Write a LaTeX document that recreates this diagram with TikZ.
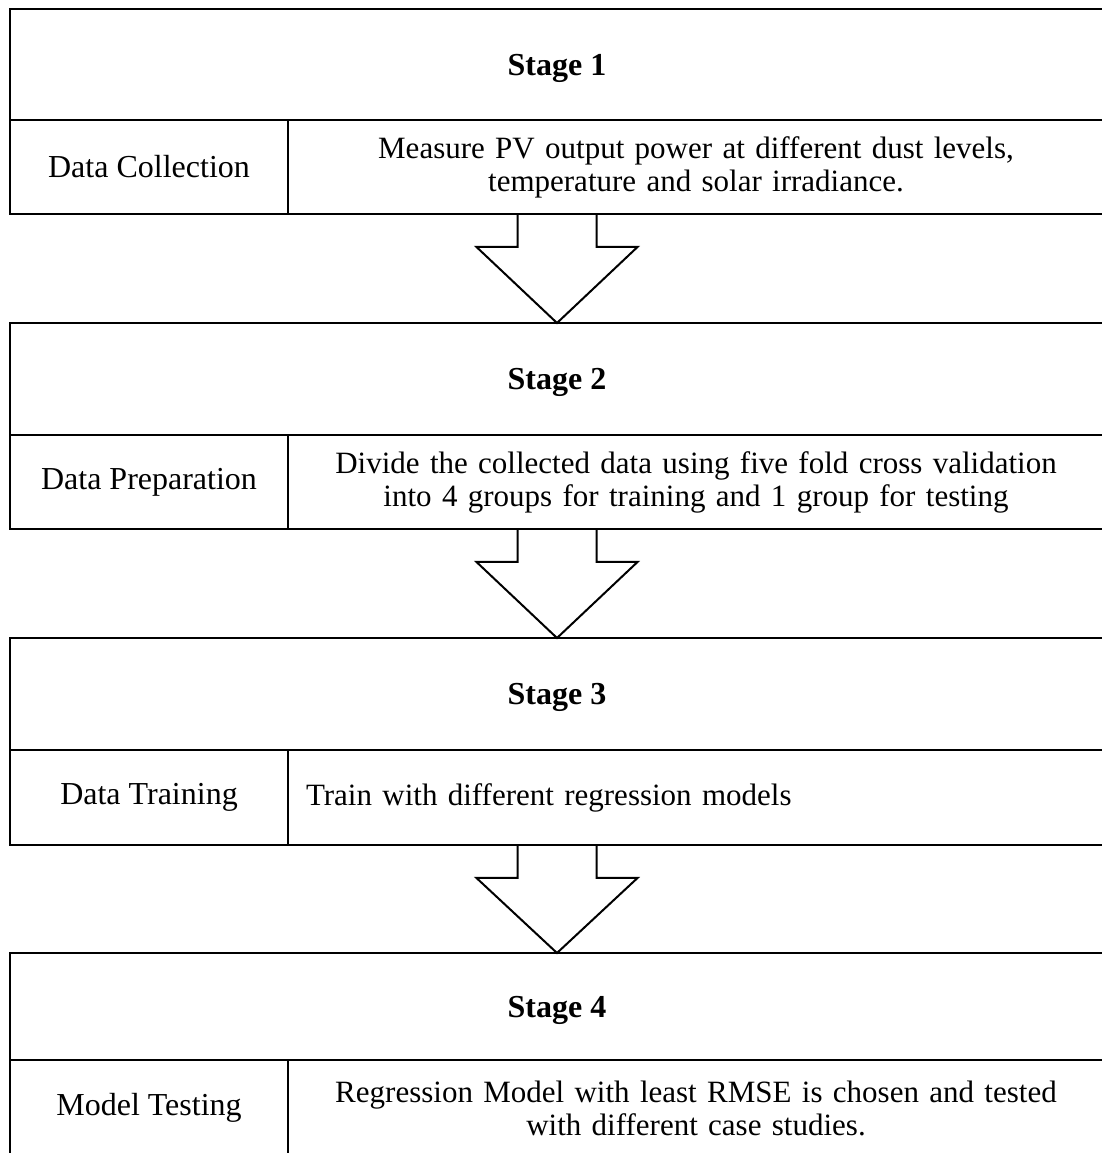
\documentclass[tikz,border=0pt]{standalone}
\usepackage{fontspec}
\setmainfont{Liberation Serif}
\usetikzlibrary{calc}
\begin{document}
\begin{tikzpicture}[x=1pt,y=1pt,
  cell/.style={draw=black, line width=2.6pt, rectangle, inner sep=0pt, outer sep=0pt,
    font=\fontsize{32}{34}\selectfont, anchor=north west},
  titlebox/.style={cell, minimum width=1094pt, text height=22pt, text depth=0pt,
    font=\fontsize{32}{34}\selectfont\bfseries},
  leftbox/.style={cell, minimum width=278pt, align=center},
  rightbox/.style={cell, text width=780pt, inner xsep=18pt, inner ysep=0pt, align=center,
    font=\fontsize{31}{33}\selectfont},
  blockarrow/.style={draw=black, line width=2pt, line join=miter}]
\useasboundingbox (0,0) rectangle (1102,1153);
% Stage 1
\node[titlebox, minimum height=111pt] (t1) at (10,1144) {Stage 1};
\node[leftbox, minimum height=94pt] (l1) at (t1.south west) {Data Collection};
\node[rightbox, minimum height=94pt] (r1) at (l1.north east)
  {Measure PV output power at different dust levels,\\temperature and solar irradiance.};
% Stage 2
\node[titlebox, minimum height=112pt] (t2) at (10,830) {Stage 2};
\node[leftbox, minimum height=94pt] (l2) at (t2.south west) {Data Preparation};
\node[rightbox, minimum height=94pt] (r2) at (l2.north east)
  {Divide the collected data using five fold cross validation\\into 4 groups for training and 1 group for testing};
% Stage 3
\node[titlebox, minimum height=112pt] (t3) at (10,515) {Stage 3};
\node[leftbox, minimum height=95pt] (l3) at (t3.south west) {Data Training};
\node[rightbox, minimum height=95pt, align=left] (r3) at (l3.north east)
  {Train with different regression models};
% Stage 4
\node[titlebox, minimum height=107pt] (t4) at (10,200) {Stage 4};
\node[leftbox, minimum height=96pt] (l4) at (t4.south west) {Model Testing};
\node[rightbox, minimum height=96pt] (r4) at (l4.north east)
  {Regression Model with least RMSE is chosen and tested\\with different case studies.};
% Block arrows
\foreach \a/\b in {1/2,2/3,3/4}{
  \coordinate (s\a) at (t\a.center |- l\a.south);
  \draw[blockarrow] ($(s\a)+(-39.5,0)$) -- ++(0,-33) -- ++(-41,0) -- (t\b.north)
    -- ($(s\a)+(80.5,-33)$) -- ++(-41,0) -- ++(0,33);
}
\end{tikzpicture}
\end{document}
